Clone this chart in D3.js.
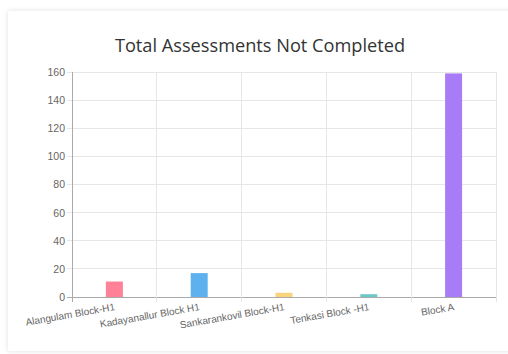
<!DOCTYPE html>
<html><head><meta charset="utf-8">
<script src="https://cdn.jsdelivr.net/npm/d3@7"></script>
<style>
html,body{margin:0;padding:0;background:#fff;}
svg{display:block;}
</style></head>
<body>
<svg id="c" width="508" height="354"></svg>
<script>
const categories = ["Alangulam Block-H1","Kadayanallur Block H1","Sankarankovil Block-H1","Tenkasi Block -H1","Block A"];
const values = [11, 17, 3, 2, 159];
const colors = ["#ff8198","#5eb1ee","#f8d57c","#6dc9c9","#a87cf6"];
const yTicks = [0,20,40,60,80,100,120,140,160];
const title = "Total Assessments Not Completed";

const svg = d3.select("#c");
const defs = svg.append("defs");
const f = defs.append("filter").attr("id","sh").attr("x","-5%").attr("y","-5%").attr("width","110%").attr("height","110%");
f.append("feDropShadow").attr("dx",0).attr("dy",0).attr("stdDeviation",2.5).attr("flood-color","#000").attr("flood-opacity",0.12);
svg.append("rect").attr("x",8).attr("y",11).attr("width",520).attr("height",340).attr("fill","#fff").attr("filter","url(#sh)");

const L=72, R=496, T=72, B=297;
const x = d3.scaleBand().domain(categories).range([L,R]);
const y = d3.scaleLinear().domain([0,160]).range([B,T]);

svg.append("text").attr("x",260).attr("y",52).attr("text-anchor","middle")
  .attr("font-family","'Open Sans', 'Noto Sans', sans-serif").attr("font-size",18.2).attr("fill","#333").text(title);

// horizontal grid
const g = svg.append("g");
g.selectAll("line.h").data(yTicks).join("line")
  .attr("x1",L-5).attr("x2",R).attr("y1",d=>y(d)).attr("y2",d=>y(d))
  .attr("stroke",d=>d===0?"#aaa":"#e6e6e6").attr("stroke-width",1).attr("shape-rendering","crispEdges");
// vertical grid
const vx = categories.map(c=>x(c)).concat([R]);
g.selectAll("line.v").data(vx).join("line")
  .attr("x1",d=>d).attr("x2",d=>d).attr("y1",T).attr("y2",B+5)
  .attr("stroke",(d,i)=>i===0?"#aaa":"#e6e6e6").attr("shape-rendering","crispEdges");

const yAxis = d3.axisLeft(y).tickValues(yTicks).tickSize(0).tickPadding(7);
const ya = svg.append("g").attr("transform",`translate(${L},0)`).call(yAxis);
ya.select(".domain").remove();
ya.selectAll("text").attr("font-family","Arial, 'Liberation Sans', sans-serif").attr("font-size",10.5).attr("fill","#666");

// bars
const bw = 17;
svg.selectAll("rect.bar").data(values).join("rect")
  .attr("x",(d,i)=>x(categories[i])+x.bandwidth()/2-bw/2)
  .attr("width",bw)
  .attr("y",d=>y(d)).attr("height",d=>B-y(d))
  .attr("fill",(d,i)=>colors[i]);

// x labels
const xAxis = d3.axisBottom(x).tickSize(0).tickPadding(0);
const xa = svg.append("g").attr("transform",`translate(0,${B})`).call(xAxis);
xa.select(".domain").remove();
xa.selectAll(".tick text")
  .attr("font-family","Arial, 'Liberation Sans', sans-serif").attr("font-size",10).attr("fill","#666")
  .attr("text-anchor","end").attr("dy",0).attr("y",0)
  .attr("transform","translate(1,13) rotate(-10)");
</script>
</body></html>
